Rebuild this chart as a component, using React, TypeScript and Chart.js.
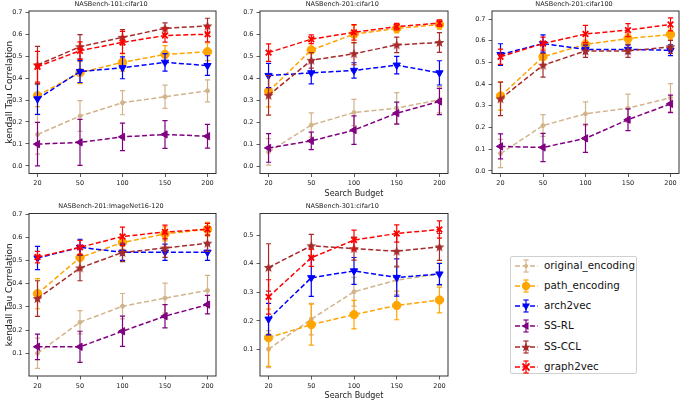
import React, { useEffect, useRef } from "react";
import { Chart, registerables } from "chart.js";
Chart.register(...registerables);

// ---------- data ----------
const budgetLabels = ["20", "50", "100", "150", "200"];
const seriesNames = ["original_encoding", "path_encoding", "arch2vec", "SS-RL", "SS-CCL", "graph2vec"];

// NASBench-101:cifar10
const nb101OrigMean = [0.143, 0.227, 0.288, 0.315, 0.342];
const nb101OrigErr = [0.09, 0.07, 0.055, 0.053, 0.05];
const nb101PathMean = [0.32, 0.425, 0.472, 0.508, 0.52];
const nb101PathErr = [0.05, 0.05, 0.04, 0.04, 0.04];
const nb101ArchMean = [0.305, 0.43, 0.447, 0.472, 0.457];
const nb101ArchErr = [0.07, 0.05, 0.05, 0.04, 0.045];
const nb101RlMean = [0.099, 0.107, 0.132, 0.143, 0.135];
const nb101RlErr = [0.099, 0.105, 0.063, 0.063, 0.054];
const nb101CclMean = [0.46, 0.543, 0.586, 0.627, 0.638];
const nb101CclErr = [0.085, 0.055, 0.035, 0.025, 0.035];
const nb101G2vMean = [0.452, 0.525, 0.563, 0.594, 0.6];
const nb101G2vErr = [0.07, 0.04, 0.05, 0.03, 0.035];

// NASBench-201:cifar10
const c10OrigMean = [0.066, 0.188, 0.245, 0.265, 0.303];
const c10OrigErr = [0.06, 0.055, 0.06, 0.07, 0.06];
const c10PathMean = [0.341, 0.529, 0.601, 0.627, 0.644];
const c10PathErr = [0.07, 0.05, 0.04, 0.02, 0.02];
const c10ArchMean = [0.413, 0.425, 0.436, 0.46, 0.425];
const c10ArchErr = [0.055, 0.05, 0.035, 0.04, 0.055];
const c10RlMean = [0.084, 0.116, 0.165, 0.242, 0.295];
const c10RlErr = [0.065, 0.04, 0.065, 0.05, 0.06];
const c10CclMean = [0.323, 0.482, 0.512, 0.552, 0.563];
const c10CclErr = [0.09, 0.035, 0.05, 0.035, 0.045];
const c10G2vMean = [0.517, 0.578, 0.609, 0.635, 0.651];
const c10G2vErr = [0.04, 0.02, 0.035, 0.015, 0.015];

// NASBench-201:cifar100
const c100OrigMean = [0.08, 0.209, 0.263, 0.289, 0.337];
const c100OrigErr = [0.065, 0.05, 0.055, 0.065, 0.065];
const c100PathMean = [0.345, 0.526, 0.583, 0.61, 0.629];
const c100PathErr = [0.065, 0.04, 0.02, 0.02, 0.025];
const c100ArchMean = [0.536, 0.587, 0.56, 0.56, 0.556];
const c100ArchErr = [0.05, 0.04, 0.02, 0.02, 0.025];
const c100RlMean = [0.113, 0.108, 0.15, 0.236, 0.309];
const c100RlErr = [0.058, 0.065, 0.065, 0.05, 0.04];
const c100CclMean = [0.332, 0.487, 0.553, 0.553, 0.572];
const c100CclErr = [0.077, 0.055, 0.03, 0.03, 0.03];
const c100G2vMean = [0.526, 0.587, 0.631, 0.649, 0.675];
const c100G2vErr = [0.035, 0.03, 0.04, 0.03, 0.03];

// NASBench-201:ImageNet16-120
const inOrigMean = [0.1, 0.234, 0.303, 0.338, 0.371];
const inOrigErr = [0.065, 0.05, 0.055, 0.065, 0.065];
const inPathMean = [0.357, 0.513, 0.578, 0.615, 0.635];
const inPathErr = [0.065, 0.05, 0.03, 0.03, 0.03];
const inArchMean = [0.511, 0.557, 0.536, 0.536, 0.536];
const inArchErr = [0.05, 0.035, 0.035, 0.035, 0.035];
const inRlMean = [0.128, 0.128, 0.195, 0.26, 0.31];
const inRlErr = [0.055, 0.067, 0.065, 0.05, 0.04];
const inCclMean = [0.336, 0.468, 0.535, 0.554, 0.575];
const inCclErr = [0.077, 0.055, 0.04, 0.04, 0.035];
const inG2vMean = [0.515, 0.557, 0.604, 0.623, 0.635];
const inG2vErr = [0.025, 0.03, 0.04, 0.03, 0.025];

// NASBench-301:cifar10
const nb301OrigMean = [0.101, 0.206, 0.302, 0.343, 0.364];
const nb301OrigErr = [0.065, 0.055, 0.05, 0.05, 0.04];
const nb301PathMean = [0.141, 0.187, 0.222, 0.254, 0.273];
const nb301PathErr = [0.1, 0.072, 0.05, 0.05, 0.045];
const nb301ArchMean = [0.206, 0.351, 0.375, 0.352, 0.364];
const nb301ArchErr = [0.055, 0.065, 0.047, 0.065, 0.037];
const nb301CclMean = [0.387, 0.463, 0.453, 0.444, 0.459];
const nb301CclErr = [0.083, 0.04, 0.04, 0.055, 0.047];
const nb301G2vMean = [0.284, 0.421, 0.483, 0.506, 0.52];
const nb301G2vErr = [0.06, 0.03, 0.035, 0.03, 0.03];

const ticksFull = [0, 0.1, 0.2, 0.3, 0.4, 0.5, 0.6, 0.7];
const ticksFrom01 = [0.1, 0.2, 0.3, 0.4, 0.5, 0.6, 0.7];
const ticks301 = [0.1, 0.2, 0.3, 0.4, 0.5];

// ---------- styles ----------
const FONT = "'DejaVu Sans', 'Liberation Sans', sans-serif";
const COLORS = ["#d2b48c", "#ffa500", "#0000ff", "#800080", "#a52a2a", "#ff0000"];
const AXIS = "#333333";

type Spec = {
  title: string;
  means: (number[] | null)[];
  errs: (number[] | null)[];
  yMin: number;
  yMax: number;
  yTicks: number[];
  rect: [number, number, number, number];
  yLabel: boolean;
  xLabel: boolean;
};

const ROW1 = [11, 173.5];
const ROW2 = [213.5, 376];
const COL1 = [29, 222];
const COL2 = [260, 453.5];
const COL3 = [492, 685];

const panels: Spec[] = [
  {
    title: "NASBench-101:cifar10",
    means: [nb101OrigMean, nb101PathMean, nb101ArchMean, nb101RlMean, nb101CclMean, nb101G2vMean],
    errs: [nb101OrigErr, nb101PathErr, nb101ArchErr, nb101RlErr, nb101CclErr, nb101G2vErr],
    yMin: -0.035, yMax: 0.706, yTicks: ticksFull,
    rect: [COL1[0], ROW1[0], COL1[1], ROW1[1]], yLabel: true, xLabel: false,
  },
  {
    title: "NASBench-201:cifar10",
    means: [c10OrigMean, c10PathMean, c10ArchMean, c10RlMean, c10CclMean, c10G2vMean],
    errs: [c10OrigErr, c10PathErr, c10ArchErr, c10RlErr, c10CclErr, c10G2vErr],
    yMin: -0.032, yMax: 0.706, yTicks: ticksFull,
    rect: [COL2[0], ROW1[0], COL2[1], ROW1[1]], yLabel: false, xLabel: true,
  },
  {
    title: "NASBench-201:cifar100",
    means: [c100OrigMean, c100PathMean, c100ArchMean, c100RlMean, c100CclMean, c100G2vMean],
    errs: [c100OrigErr, c100PathErr, c100ArchErr, c100RlErr, c100CclErr, c100G2vErr],
    yMin: -0.012, yMax: 0.737, yTicks: ticksFull,
    rect: [COL3[0], ROW1[0], COL3[1], ROW1[1]], yLabel: false, xLabel: false,
  },
  {
    title: "NASBench-201:ImageNet16-120",
    means: [inOrigMean, inPathMean, inArchMean, inRlMean, inCclMean, inG2vMean],
    errs: [inOrigErr, inPathErr, inArchErr, inRlErr, inCclErr, inG2vErr],
    yMin: 0.002, yMax: 0.703, yTicks: ticksFrom01,
    rect: [COL1[0], ROW2[0], COL1[1], ROW2[1]], yLabel: true, xLabel: false,
  },
  {
    title: "NASBench-301:cifar10",
    means: [nb301OrigMean, nb301PathMean, nb301ArchMean, null, nb301CclMean, nb301G2vMean],
    errs: [nb301OrigErr, nb301PathErr, nb301ArchErr, null, nb301CclErr, nb301G2vErr],
    yMin: 0.007, yMax: 0.576, yTicks: ticks301,
    rect: [COL2[0], ROW2[0], COL2[1], ROW2[1]], yLabel: false, xLabel: true,
  },
];

function makeStarCanvas(color: string): HTMLCanvasElement {
  const c = document.createElement("canvas");
  const s = 11;
  c.width = s;
  c.height = s;
  const ctx = c.getContext("2d")!;
  ctx.fillStyle = color;
  ctx.beginPath();
  const cx = s / 2, cy = s / 2 + 0.4, R = 5.2, r = 2.2;
  for (let i = 0; i < 10; i++) {
    const a = -Math.PI / 2 + (i * Math.PI) / 5;
    const rad = i % 2 === 0 ? R : r;
    const x = cx + rad * Math.cos(a), y = cy + rad * Math.sin(a);
    if (i === 0) ctx.moveTo(x, y);
    else ctx.lineTo(x, y);
  }
  ctx.closePath();
  ctx.fill();
  return c;
}

function pointStyleFor(i: number): any {
  switch (i) {
    case 0: return { pointStyle: "circle", pointRadius: 2, pointRotation: 0, pointBorderWidth: 1 };
    case 1: return { pointStyle: "circle", pointRadius: 4.2, pointRotation: 0, pointBorderWidth: 1 };
    case 2: return { pointStyle: "triangle", pointRadius: 4.2, pointRotation: 180, pointBorderWidth: 1 };
    case 3: return { pointStyle: "triangle", pointRadius: 4.2, pointRotation: 270, pointBorderWidth: 1 };
    case 4: return { pointStyle: makeStarCanvas(COLORS[4]), pointRadius: 5, pointRotation: 0, pointBorderWidth: 1 };
    default: return { pointStyle: "crossRot", pointRadius: 4, pointRotation: 0, pointBorderWidth: 1.8 };
  }
}

const errorBarPlugin = {
  id: "errorBars",
  beforeDatasetDraw(chart: any, args: any) {
    const ds = chart.data.datasets[args.index];
    const errs: number[] | undefined = ds.errors;
    if (!errs) return;
    const ys = chart.scales.y;
    const ctx = chart.ctx;
    ctx.save();
    ctx.strokeStyle = ds.borderColor;
    ctx.lineWidth = 1.2;
    ctx.setLineDash([]);
    args.meta.data.forEach((pt: any, j: number) => {
      const v = ds.data[j].y;
      const e = errs[j];
      const x = pt.x;
      const y1 = ys.getPixelForValue(v - e);
      const y2 = ys.getPixelForValue(v + e);
      ctx.beginPath();
      ctx.moveTo(x, y1);
      ctx.lineTo(x, y2);
      ctx.moveTo(x - 2.6, y1);
      ctx.lineTo(x + 2.6, y1);
      ctx.moveTo(x - 2.6, y2);
      ctx.lineTo(x + 2.6, y2);
      ctx.stroke();
    });
    ctx.restore();
  },
};

const framePlugin = {
  id: "frame",
  afterDatasetsDraw(chart: any) {
    const { ctx, chartArea: a } = chart;
    ctx.save();
    ctx.strokeStyle = AXIS;
    ctx.lineWidth = 1;
    ctx.strokeRect(a.left, a.top, a.right - a.left, a.bottom - a.top);
    ctx.restore();
  },
};

function Panel({ spec }: { spec: Spec }) {
  const ref = useRef<HTMLCanvasElement>(null);
  const [l, t, r, b] = spec.rect;
  const cl = Math.floor(l - 29);
  const yw = l - cl;
  const ct = Math.floor(t - 11);
  const th = t - ct;
  const cb = Math.ceil(b + (spec.xLabel ? 24 : 14));
  const xh = cb - b;
  const cr = Math.ceil(r);
  const pr = cr - r;
  const w = cr - cl;
  const h = cb - ct;

  useEffect(() => {
    const datasets: any[] = [];
    spec.means.forEach((m, i) => {
      if (!m) return;
      datasets.push({
        label: seriesNames[i],
        data: m.map((v, j) => ({ x: j, y: v })),
        errors: spec.errs[i],
        borderColor: COLORS[i],
        backgroundColor: COLORS[i],
        pointBackgroundColor: COLORS[i],
        pointBorderColor: COLORS[i],
        borderWidth: 1.5,
        borderDash: [5, 2.5],
        fill: false,
        tension: 0,
        order: 10 - i,
        ...pointStyleFor(i),
      });
    });
    const tickFont = { family: FONT, size: 6.5 };
    const chart = new Chart(ref.current!, {
      type: "line",
      data: { datasets },
      options: {
        animation: false,
        responsive: false,
        maintainAspectRatio: false,
        devicePixelRatio: 1,
        layout: { padding: { left: 0, top: 0, right: pr, bottom: 0 } },
        plugins: {
          legend: { display: false },
          tooltip: { enabled: false },
          title: {
            display: true,
            text: spec.title,
            color: "#222",
            font: { family: FONT, size: 6.5, lineHeight: 1, weight: "normal" },
            padding: { top: 1, bottom: th - 7.5 },
          },
        },
        scales: {
          x: {
            type: "linear",
            min: -0.2,
            max: 4.2,
            afterBuildTicks: (s: any) => {
              s.ticks = budgetLabels.map((_, j) => ({ value: j }));
            },
            afterFit: (s: any) => {
              s.height = xh;
            },
            ticks: {
              callback: (v: any) => budgetLabels[Math.round(Number(v))],
              font: tickFont,
              color: "#222",
              padding: 2.5,
              maxRotation: 0,
              autoSkip: false,
            },
            grid: { drawOnChartArea: false, drawTicks: true, tickLength: 3.5, color: AXIS, lineWidth: 0.8 },
            border: { display: false },
            title: {
              display: spec.xLabel,
              text: "Search Budget",
              color: "#222",
              font: { family: FONT, size: 8, lineHeight: 1 },
              padding: { top: 0, bottom: cb - 4 - (b + 20.2) },
            },
          },
          y: {
            type: "linear",
            min: spec.yMin,
            max: spec.yMax,
            afterBuildTicks: (s: any) => {
              s.ticks = spec.yTicks.map((v) => ({ value: v }));
            },
            afterFit: (s: any) => {
              s.width = yw;
            },
            ticks: {
              callback: (v: any) => Number(v).toFixed(1),
              font: tickFont,
              color: "#222",
              padding: 3,
            },
            grid: { drawOnChartArea: false, drawTicks: true, tickLength: 3.5, color: AXIS, lineWidth: 0.8 },
            border: { display: false },
            title: {
              display: spec.yLabel,
              text: "kendall Tau Correlation",
              color: "#222",
              font: { family: FONT, size: 9, lineHeight: 1 },
              padding: { top: 5.5, bottom: 0 },
            },
          },
        },
      } as any,
      plugins: [errorBarPlugin, framePlugin],
    });
    return () => chart.destroy();
  }, []);

  return (
    <canvas
      ref={ref}
      width={w}
      height={h}
      style={{ position: "absolute", left: cl, top: ct, width: w, height: h }}
    />
  );
}

function LegendMarker({ i }: { i: number }) {
  const c = COLORS[i];
  const cx = 11, cy = 7;
  let marker: React.ReactNode = null;
  if (i === 0) marker = <circle cx={cx} cy={cy} r={2} fill={c} />;
  else if (i === 1) marker = <circle cx={cx} cy={cy} r={4.2} fill={c} />;
  else if (i === 2) marker = <polygon points={`${cx - 4},${cy - 2.5} ${cx + 4},${cy - 2.5} ${cx},${cy + 4.5}`} fill={c} />;
  else if (i === 3) marker = <polygon points={`${cx + 2.5},${cy - 4} ${cx + 2.5},${cy + 4} ${cx - 4.5},${cy}`} fill={c} />;
  else if (i === 4) {
    const pts: string[] = [];
    for (let k = 0; k < 10; k++) {
      const a = -Math.PI / 2 + (k * Math.PI) / 5;
      const rad = k % 2 === 0 ? 5 : 2.1;
      pts.push(`${cx + rad * Math.cos(a)},${cy + 0.4 + rad * Math.sin(a)}`);
    }
    marker = <polygon points={pts.join(" ")} fill={c} />;
  } else
    marker = (
      <g stroke={c} strokeWidth={1.8}>
        <line x1={cx - 3.5} y1={cy - 3.5} x2={cx + 3.5} y2={cy + 3.5} />
        <line x1={cx - 3.5} y1={cy + 3.5} x2={cx + 3.5} y2={cy - 3.5} />
      </g>
    );
  return (
    <svg width={23} height={14} style={{ position: "absolute", left: 4, top: 0 }}>
      <line x1={0} y1={cy} x2={23} y2={cy} stroke={c} strokeWidth={1.5} strokeDasharray="5 2.5" />
      <g stroke={c} strokeWidth={1.2}>
        <line x1={cx} y1={1} x2={cx} y2={13} />
        <line x1={cx - 2.6} y1={1} x2={cx + 2.6} y2={1} />
        <line x1={cx - 2.6} y1={13} x2={cx + 2.6} y2={13} />
      </g>
      {marker}
    </svg>
  );
}

function Legend() {
  return (
    <div
      style={{
        position: "absolute",
        left: 510,
        top: 256,
        width: 127,
        height: 118,
        border: "1px solid #d0d0d0",
        borderRadius: 2,
        background: "#fff",
        boxSizing: "border-box",
      }}
    >
      {seriesNames.map((n, i) => (
        <div key={n} style={{ position: "absolute", left: 0, top: 1.5 + i * 20.3, width: 125, height: 14 }}>
          <LegendMarker i={i} />
          <span
            style={{
              position: "absolute",
              left: 33,
              top: -1,
              fontFamily: FONT,
              fontSize: 10.3,
              lineHeight: "14px",
              color: "#111",
              whiteSpace: "nowrap",
            }}
          >
            {n}
          </span>
        </div>
      ))}
    </div>
  );
}

export default function App() {
  return (
    <div style={{ position: "relative", width: 685, height: 401, overflow: "hidden", background: "#fff" }}>
      <style>{"body{margin:0}"}</style>
      {panels.map((p) => (
        <Panel key={p.title} spec={p} />
      ))}
      <Legend />
    </div>
  );
}
